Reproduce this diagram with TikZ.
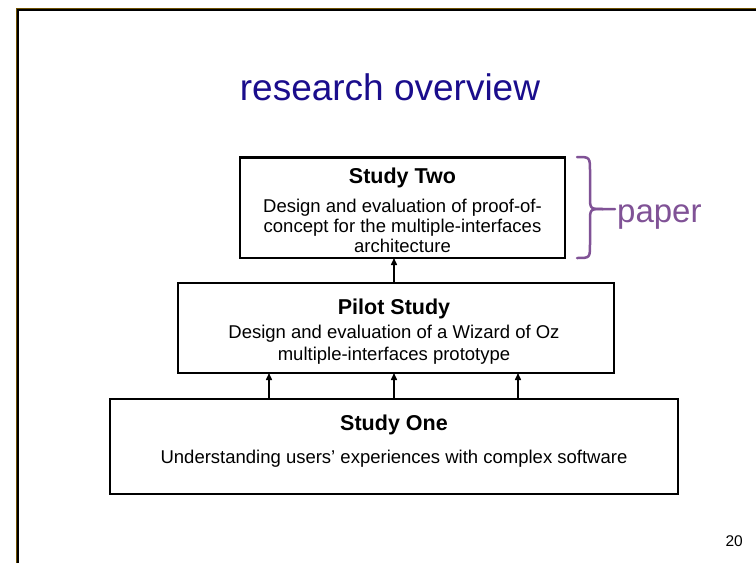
\documentclass[tikz,border=0pt]{standalone}
\usepackage{fontspec}
\setmainfont{Liberation Sans}
\usetikzlibrary{positioning,arrows.meta}
\definecolor{titleblue}{RGB}{26,13,140}
\definecolor{paperpurple}{RGB}{128,82,150}
\definecolor{frameolive}{RGB}{110,80,0}

\begin{document}
\begin{tikzpicture}[x=1pt,y=-1pt]
  \tikzset{BoxStyle/.style = {
    shape         = rectangle,
    draw          = black,
    fill          = white,
    line width    = 2.5pt,
    inner sep     = 0pt,
    outer sep     = 0pt
    }
  }
  \tikzset{HeadStyle/.style = {
    anchor        = base,
    inner sep     = 0pt,
    font          = \bfseries\fontsize{21.5}{26}\selectfont
    }
  }
  \tikzset{TextStyle/.style = {
    anchor        = base,
    inner sep     = 0pt,
    font          = \fontsize{18.5}{22}\selectfont
    }
  }
  \tikzset{ArrowStyle/.style = {
    draw          = black,
    line width    = 1.5pt,
    -{Triangle[length=7pt,width=6pt]}
    }
  }
  \tikzset{BraceStyle/.style = {
    draw          = paperpurple,
    line width    = 2.5pt,
    line cap      = round
    }
  }

  \useasboundingbox (0,0) rectangle (756,563);
  % frame
  \draw[frameolive, line width=1pt] (16.5,563) -- (16.5,8.5) -- (756,8.5);
  \draw[black, line width=2pt] (18,563) -- (18,10) -- (756,10);

  \node[anchor=base, inner sep=0pt, text=titleblue, font=\fontsize{37}{44}\selectfont] (Title) at (390,100) {research overview};

  % boxes
  \node[BoxStyle, minimum width=325, minimum height=100.5] (Two) at (402.5,207.75) {};
  \node[BoxStyle, minimum width=436, minimum height=90] (Pilot) at (396,328) {};
  \node[BoxStyle, minimum width=568, minimum height=95] (One) at (394,446.5) {};
  %
  \node[HeadStyle](TwoHead) at (402.5,183) {Study Two};
  \node[TextStyle](TwoA) at (402.5,212) {Design and evaluation of proof-of-};
  \node[TextStyle](TwoB) at (402.5,232) {concept for the multiple-interfaces};
  \node[TextStyle](TwoC) at (402.5,252) {architecture};
  %
  \node[HeadStyle](PilotHead) at (394,314) {Pilot Study};
  \node[TextStyle](PilotA) at (394,338) {Design and evaluation of a Wizard of Oz};
  \node[TextStyle](PilotB) at (394,360) {multiple-interfaces prototype};
  %
  \node[HeadStyle](OneHead) at (394,430) {Study One};
  \node[TextStyle](OneA) at (394,463) {Understanding users’ experiences with complex software};

  % arrows
  \draw[ArrowStyle] (One.north |- Pilot.north) -- (One.north |- Two.south);
  \draw[ArrowStyle] ([xshift=-125pt]One.north) -- ([xshift=-125pt]One.north |- Pilot.south);
  \draw[ArrowStyle] (One.north) -- (One.north |- Pilot.south);
  \draw[ArrowStyle] ([xshift=124pt]One.north) -- ([xshift=124pt]One.north |- Pilot.south);

  % brace
  \coordinate (BraceTip) at (615,209);
  \draw[BraceStyle] (577,157) .. controls (590,157) .. (590,172) -- (590,196) .. controls (590,209) .. (603,209) -- (BraceTip);
  \draw[BraceStyle] (603,209) .. controls (590,209) .. (590,222) -- (590,244) .. controls (590,258) .. (577,258);
  \node[anchor=base west, inner sep=0pt, text=paperpurple, font=\fontsize{33}{40}\selectfont] (Paper) at (617,222) {paper};

  \node[anchor=base east, inner sep=0pt, font=\fontsize{15.5}{18}\selectfont] (PageNo) at (743,546) {20};
\end{tikzpicture}
\end{document}
